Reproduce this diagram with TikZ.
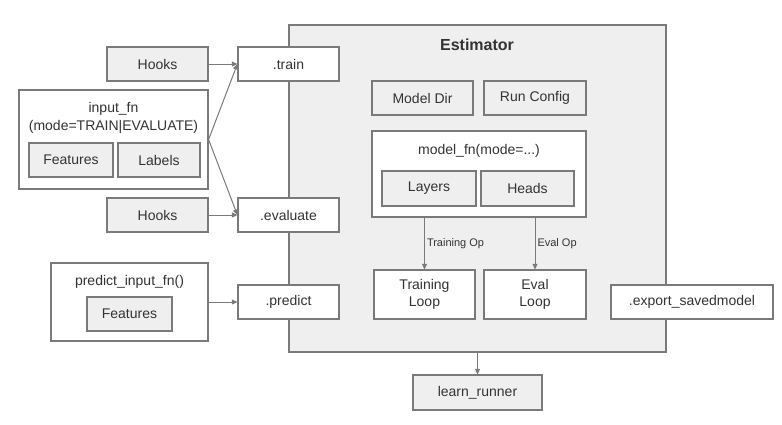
\documentclass[tikz,border=0pt]{standalone}
\usepackage{fontspec}
\setmainfont{Liberation Sans}
\usetikzlibrary{arrows.meta}
\definecolor{rand}{HTML}{7A7A7A}
\definecolor{grau}{HTML}{EFEFEF}
\definecolor{schrift}{HTML}{333333}
\tikzset{
  kasten/.style  = {draw=rand, line width=1.2pt, text=schrift, inner sep=0pt,
                    font=\fontsize{14}{17.5}\selectfont, align=center},
  grauKasten/.style = {kasten, fill=grau},
  weissKasten/.style = {kasten, fill=white},
  pfeil/.style   = {draw=rand, line width=1pt, -{Triangle[width=5pt,length=5.5pt]}},
  klein/.style   = {font=\fontsize{11}{13}\selectfont, text=schrift, inner sep=2pt}
}
\begin{document}
\begin{tikzpicture} [x = 1pt, y = -1pt]
            \useasboundingbox (0, 0) rectangle (782, 424);

            % Estimator
            \node [grauKasten, minimum width = 377, minimum height = 327] (est) at (477.5, 188.5) {};
            \node [text=schrift, font=\fontsize{16}{18}\selectfont\bfseries] (esttitel) at (477, 45) {Estimator};
            \node [grauKasten, minimum width = 101, minimum height = 34] (modeldir) at (422.5, 98) {Model Dir};
            \node [grauKasten, minimum width = 102, minimum height = 34] (runconfig) at (535, 98) {Run Config};

            % model_fn
            \node [weissKasten, minimum width = 214, minimum height = 86] (modelfn) at (479, 174) {};
            \node [text=schrift, font=\fontsize{14}{16}\selectfont] (modelfntext) at (479, 151) {model\_fn(mode=...)};
            \node [grauKasten, minimum width = 94, minimum height = 35] (layers) at (429, 188.5) {Layers};
            \node [grauKasten, minimum width = 93, minimum height = 35] (heads) at (527.5, 188.5) {Heads};

            % Schleifen
            \node [weissKasten, minimum width = 101, minimum height = 49] (trainloop) at (424.5, 294.5) {Training\\Loop};
            \node [weissKasten, minimum width = 102, minimum height = 49] (evalloop) at (535, 294.5) {Eval\\Loop};
            \draw [pfeil] (trainloop.north |- modelfn.south) -- (trainloop.north) node [midway, right, klein] {Training Op};
            \draw [pfeil] (evalloop.north |- modelfn.south) -- (evalloop.north) node [midway, right, klein] {Eval Op};

            % Methoden
            \node [weissKasten, minimum width = 101, minimum height = 34] (train) at (288.5, 64) {.train};
            \node [weissKasten, minimum width = 101, minimum height = 34] (evaluate) at (288.5, 215) {.evaluate};
            \node [weissKasten, minimum width = 101, minimum height = 34] (predict) at (288.5, 302) {.predict};
            \node [weissKasten, minimum width = 162, minimum height = 34] (export) at (692, 302) {.export\_savedmodel};

            % Eingaben
            \node [grauKasten, minimum width = 101, minimum height = 34] (hooksa) at (157.5, 64) {Hooks};
            \node [grauKasten, minimum width = 101, minimum height = 34] (hooksb) at (157.5, 215) {Hooks};

            \node [weissKasten, minimum width = 189, minimum height = 99] (inputfn) at (113.5, 139.5) {};
            \node [text=schrift, font=\fontsize{14}{18}\selectfont, align=center] (inputfntext) at (113.5, 118) {input\_fn\\(mode=TRAIN|EVALUATE)};
            \node [grauKasten, minimum width = 84, minimum height = 34] (feata) at (71, 160) {Features};
            \node [grauKasten, minimum width = 82, minimum height = 34] (labels) at (159, 160) {Labels};

            \node [weissKasten, minimum width = 157, minimum height = 78] (predictfn) at (129.5, 302) {};
            \node [text=schrift, font=\fontsize{14}{16}\selectfont] (predictfntext) at (129.5, 282) {predict\_input\_fn()};
            \node [grauKasten, minimum width = 85, minimum height = 34] (featb) at (129.5, 314) {Features};

            % Verbindungen
            \draw [pfeil] (hooksa) -- (train);
            \draw [pfeil] (hooksb) -- (evaluate);
            \draw [pfeil] (inputfn.east) -- (train.west);
            \draw [pfeil] (inputfn.east) -- (evaluate.west);
            \draw [pfeil] (predictfn) -- (predict);

            % learn_runner
            \node [grauKasten, minimum width = 129, minimum height = 35] (learnrunner) at (477.5, 392.5) {learn\_runner};
            \draw [pfeil] (est.south) -- (learnrunner.north);
        \end{tikzpicture}
\end{document}
